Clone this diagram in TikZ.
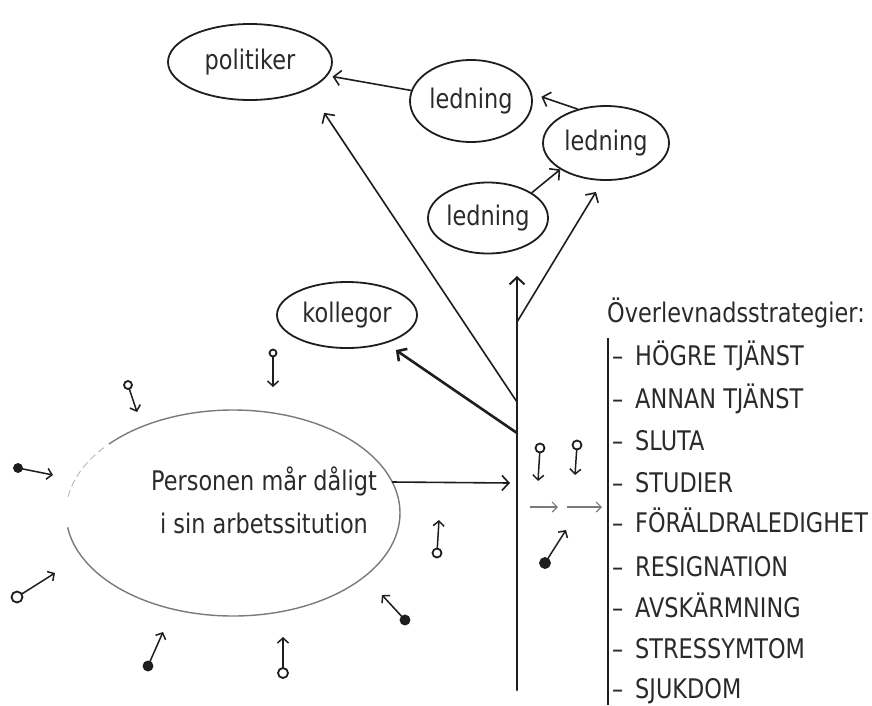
\documentclass[tikz,border=0pt]{standalone}
\usepackage{fontspec}
\setmainfont{DejaVu Sans}[FakeStretch=0.83]
\usetikzlibrary{arrows.meta,shapes.geometric,calc}
\definecolor{ink}{HTML}{1E1E1E}
\definecolor{txt}{HTML}{2A2A2A}
\definecolor{faint}{HTML}{7A7A7A}
\tikzset{
  lbl/.style={font=\fontsize{27pt}{32pt}\selectfont, text=txt, inner sep=0pt},
  bubble/.style={ellipse, draw=ink, line width=1.8pt, lbl},
  conn/.style={draw=ink, line width=1.6pt, line cap=round, -{Straight Barb[length=7pt,width=15pt]}},
  thin/.style={draw=faint, line width=1.1pt, -{Straight Barb[length=5pt,width=10pt]}},
  pinline/.style={draw=ink, line width=1.5pt, line cap=round, -{Straight Barb[length=5pt,width=11pt]}},
  pindot/.style={draw=ink, line width=1.8pt, fill=white},
  pinfill/.style={draw=ink, line width=1.8pt, fill=ink},
  item/.style={lbl, anchor=base west},
}
\newcommand\pinmark[4]{%
  \draw[pinline, shorten <=#3pt] (#1) -- (#2);
  \draw[#4] (#1) circle[radius=#3];}
\begin{document}
\begin{tikzpicture}[x=1pt,y=-1pt]
\useasboundingbox (0,0) rectangle (872,705);

% bubbles
\node[bubble, minimum width=164pt, minimum height=76pt] (pol) at (250,62) {politiker};
\node[bubble, minimum width=122pt, minimum height=82pt] (led1) at (471,101) {ledning};
\node[bubble, minimum width=126pt, minimum height=74pt] (led2) at (606,143) {\raisebox{-3pt}{ledning}};
\node[bubble, minimum width=120pt, minimum height=71pt] (led3) at (488,218) {\raisebox{-6pt}{ledning}};
\node[bubble, minimum width=140pt, minimum height=66pt] (kol) at (347,315) {kollegor};

% person ellipse (sketchy)
\node[ellipse, minimum width=334pt, minimum height=206pt, inner sep=0pt] (person) at (233,513) {};
\draw[faint, line width=1.4pt] (person.center) ++(222:167 and 103)
  arc[start angle=222, end angle=532, x radius=167, y radius=103];
\draw[faint!60, line width=0.8pt, dash pattern=on 7pt off 4pt] (person.center) ++(189:167 and 103)
  arc[start angle=189, end angle=220, x radius=167, y radius=103];
\node[lbl, anchor=base] (p1) at (264,490) {Personen mår dåligt};
\node[lbl, anchor=base] (p2) at (264,533) {i sin arbetssitution};

% trunk
\coordinate (tb) at (517,690);
\coordinate (tt) at (517,276);
\coordinate (b1) at (517,322);
\coordinate (b2) at (517,402);
\coordinate (b3) at (517,433);
\coordinate (ta) at (510,483);
\draw[conn, line width=2pt] (tb) -- (tt);
\draw[conn] (b1) -- (led2.265) [shorten >=13pt];
\draw[conn, shorten >=28pt] (b2) -- (pol.south east);
\draw[conn, line width=2.6pt, shorten >=12pt] (b3) -- (kol.-36);

% between bubbles
\draw[conn, shorten >=5pt] (led1) -- (pol);
\draw[conn, shorten >=10pt] (led2.130) -- (led1.7);
\draw[conn] (led3.30) -- (led2.210);

% person to trunk
\draw[conn] (person.11) -- (ta);

% small arrows right of trunk
\coordinate (s1a) at (530,507);
\coordinate (s1b) at (558,507);
\coordinate (s2a) at (567,507);
\coordinate (s2b) at (602,507);
\draw[thin] (s1a) -- (s1b);
\draw[thin] (s2a) -- (s2b);

% list
\node[item] (title) at (607,322) {Överlevnadsstrategier:};
\coordinate (brt) at (608,338);
\coordinate (brb) at (608,705);
\draw[ink, line width=1.6pt] (brt) -- (brb);
\node[item] (i1) at (612,365) {\makebox[23pt][l]{–}HÖGRE TJÄNST};
\node[item] (i2) at (612,408) {\makebox[23pt][l]{–}ANNAN TJÄNST};
\node[item] (i3) at (612,450) {\makebox[23pt][l]{–}SLUTA};
\node[item] (i4) at (612,492) {\makebox[23pt][l]{–}STUDIER};
\node[item] (i5) at (612,532) {\makebox[23pt][l]{–}FÖRÄLDRALEDIGHET};
\node[item] (i6) at (612,576) {\makebox[23pt][l]{–}RESIGNATION};
\node[item] (i7) at (612,617) {\makebox[23pt][l]{–}AVSKÄRMNING};
\node[item] (i8) at (612,658) {\makebox[23pt][l]{–}STRESSYMTOM};
\node[item] (i9) at (612,698) {\makebox[23pt][l]{–}SJUKDOM};

% pins
\pinmark{273,353}{273,387}{3.5}{pindot}
\pinmark{128,385}{137,412}{4}{pindot}
\pinmark{18,468}{53,475}{4}{pinfill}
\pinmark{17,597}{55,573}{5.5}{pindot}
\pinmark{148,666}{163,632}{4.5}{pinfill}
\pinmark{283,673}{283,637}{5}{pindot}
\pinmark{405,620}{382,595}{4.5}{pinfill}
\pinmark{437,553}{439,520}{4.5}{pindot}
\pinmark{540,448}{538,481}{4.5}{pindot}
\pinmark{577,445}{575,475}{4.5}{pindot}
\pinmark{545,563}{566,530}{5}{pinfill}
\end{tikzpicture}
\end{document}
